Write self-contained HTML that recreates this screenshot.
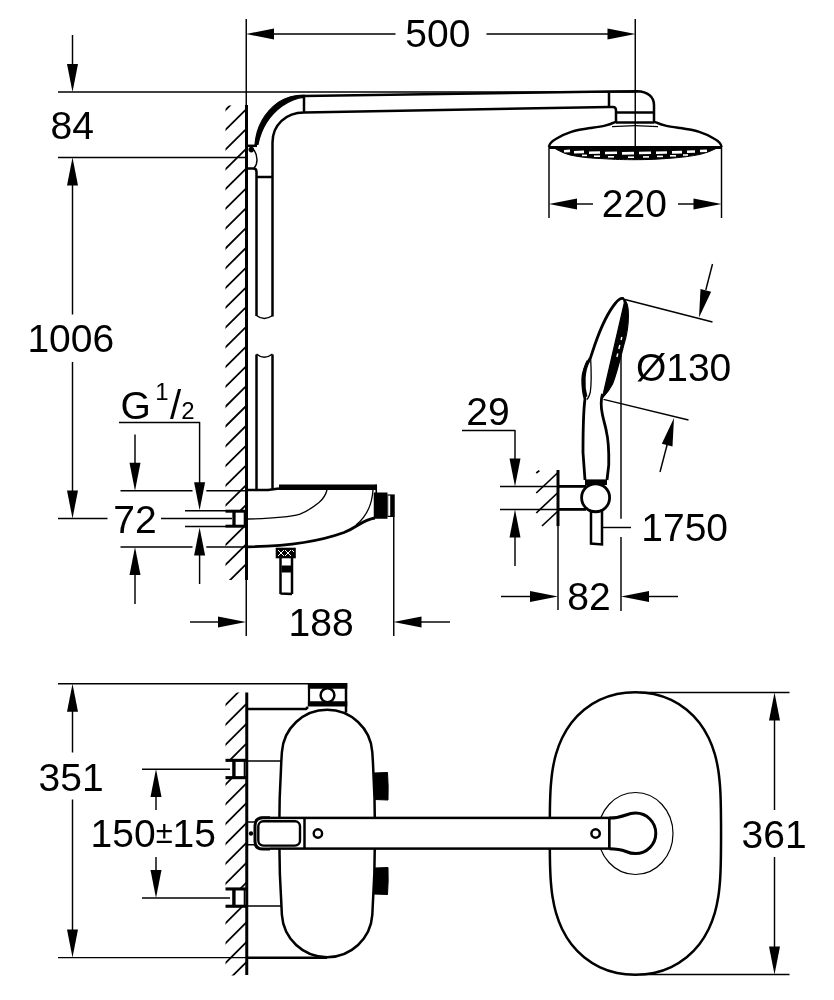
<!DOCTYPE html>
<html lang="en">
<head>
<meta charset="utf-8">
<title>Dimensional drawing</title>
<style>
html,body{margin:0;padding:0;background:#fff;}
body{width:834px;height:1000px;overflow:hidden;font-family:"Liberation Sans",Arial,Helvetica,sans-serif;}
svg{display:block;filter:grayscale(1);}
svg text{font-family:"Liberation Sans",Arial,Helvetica,sans-serif;fill:#000;stroke:none;}
</style>
</head>
<body>
<svg width="834" height="1000" viewBox="0 0 834 1000" stroke="#000" fill="none">
<rect x="0" y="0" width="834" height="1000" fill="#fff" stroke="none"/>
<g id="side-view">
<clipPath id="h1"><rect x="225.5" y="105.5" width="21.5" height="474.5"/></clipPath>
<g clip-path="url(#h1)" stroke-width="1.8">
<line x1="220" y1="115.36" x2="250" y2="85.66"/>
<line x1="220" y1="135.13" x2="250" y2="105.44"/>
<line x1="220" y1="154.92" x2="250" y2="125.22"/>
<line x1="220" y1="174.69" x2="250" y2="145.00"/>
<line x1="220" y1="194.48" x2="250" y2="164.78"/>
<line x1="220" y1="214.25" x2="250" y2="184.56"/>
<line x1="220" y1="234.04" x2="250" y2="204.34"/>
<line x1="220" y1="253.81" x2="250" y2="224.12"/>
<line x1="220" y1="273.60" x2="250" y2="243.90"/>
<line x1="220" y1="293.38" x2="250" y2="263.68"/>
<line x1="220" y1="313.16" x2="250" y2="283.46"/>
<line x1="220" y1="332.94" x2="250" y2="303.24"/>
<line x1="220" y1="352.72" x2="250" y2="323.02"/>
<line x1="220" y1="372.50" x2="250" y2="342.80"/>
<line x1="220" y1="392.27" x2="250" y2="362.57"/>
<line x1="220" y1="412.06" x2="250" y2="382.36"/>
<line x1="220" y1="431.84" x2="250" y2="402.14"/>
<line x1="220" y1="451.62" x2="250" y2="421.92"/>
<line x1="220" y1="471.39" x2="250" y2="441.69"/>
<line x1="220" y1="491.18" x2="250" y2="461.48"/>
<line x1="220" y1="510.96" x2="250" y2="481.26"/>
<line x1="220" y1="530.74" x2="250" y2="501.04"/>
<line x1="220" y1="550.51" x2="250" y2="520.81"/>
<line x1="220" y1="570.30" x2="250" y2="540.60"/>
<line x1="220" y1="590.08" x2="250" y2="560.38"/>
<line x1="220" y1="609.86" x2="250" y2="580.15"/>
<line x1="220" y1="629.63" x2="250" y2="599.93"/>
</g>
<rect x="225" y="511" width="21" height="15.5" fill="#fff" stroke="none"/>
<line x1="185" y1="510.75" x2="226" y2="510.75" stroke-width="1.45" stroke-linecap="butt"/>
<line x1="185" y1="526.5" x2="226" y2="526.5" stroke-width="1.45" stroke-linecap="butt"/>
<line x1="225.5" y1="511.2" x2="246" y2="511.2" stroke-width="3" stroke-linecap="butt"/>
<line x1="225.5" y1="526.2" x2="246" y2="526.2" stroke-width="3" stroke-linecap="butt"/>
<line x1="234" y1="511" x2="234" y2="526.5" stroke-width="3.3" stroke-linecap="butt"/>
<line x1="244.4" y1="511" x2="244.4" y2="526.5" stroke-width="1.4" stroke-linecap="butt"/>
<line x1="246.25" y1="19" x2="246.25" y2="106" stroke-width="1.45" stroke-linecap="butt"/>
<line x1="246.5" y1="105" x2="246.5" y2="580" stroke-width="3.0" stroke-linecap="butt"/>
<line x1="246.25" y1="580" x2="246.25" y2="636" stroke-width="1.45" stroke-linecap="butt"/>
<line x1="58" y1="92" x2="635" y2="92" stroke-width="1.45" stroke-linecap="butt"/>
<line x1="58" y1="157.5" x2="247" y2="157.5" stroke-width="1.45" stroke-linecap="butt"/>
<line x1="72.5" y1="35" x2="72.5" y2="66" stroke-width="1.45" stroke-linecap="butt"/>
<polygon points="72.50,92.00 67.00,64.00 78.00,64.00" fill="#000" stroke="none"/>
<polygon points="72.50,157.50 78.00,185.50 67.00,185.50" fill="#000" stroke="none"/>
<line x1="72.5" y1="184" x2="72.5" y2="314.5" stroke-width="1.45" stroke-linecap="butt"/>
<line x1="72.5" y1="362" x2="72.5" y2="492" stroke-width="1.45" stroke-linecap="butt"/>
<polygon points="72.50,518.50 67.00,490.50 78.00,490.50" fill="#000" stroke="none"/>
<line x1="58" y1="518.5" x2="107.5" y2="518.5" stroke-width="1.45" stroke-linecap="butt"/>
<line x1="161" y1="518.5" x2="232" y2="518.5" stroke-width="1.45" stroke-linecap="butt"/>
<line x1="635.25" y1="19" x2="635.25" y2="146" stroke-width="1.45" stroke-linecap="butt"/>
<polygon points="246.00,34.00 274.00,28.50 274.00,39.50" fill="#000" stroke="none"/>
<line x1="273" y1="34" x2="395.5" y2="34" stroke-width="1.45" stroke-linecap="butt"/>
<line x1="486.5" y1="34" x2="609" y2="34" stroke-width="1.45" stroke-linecap="butt"/>
<polygon points="635.50,34.00 607.50,39.50 607.50,28.50" fill="#000" stroke="none"/>
<line x1="549" y1="147" x2="549" y2="218" stroke-width="1.45" stroke-linecap="butt"/>
<line x1="721.5" y1="147" x2="721.5" y2="218" stroke-width="1.45" stroke-linecap="butt"/>
<polygon points="549.00,204.00 577.00,198.50 577.00,209.50" fill="#000" stroke="none"/>
<line x1="576" y1="204" x2="593" y2="204" stroke-width="1.45" stroke-linecap="butt"/>
<line x1="678" y1="204" x2="694" y2="204" stroke-width="1.45" stroke-linecap="butt"/>
<polygon points="721.50,204.00 693.50,209.50 693.50,198.50" fill="#000" stroke="none"/>
<line x1="120.5" y1="490.75" x2="246" y2="490.75" stroke-width="1.45" stroke-linecap="butt"/>
<line x1="120.5" y1="547" x2="246" y2="547" stroke-width="1.45" stroke-linecap="butt"/>
<line x1="135" y1="434.5" x2="135" y2="464" stroke-width="1.45" stroke-linecap="butt"/>
<polygon points="135.00,490.75 129.50,462.75 140.50,462.75" fill="#000" stroke="none"/>
<polygon points="135.00,547.00 140.50,575.00 129.50,575.00" fill="#000" stroke="none"/>
<line x1="135" y1="573" x2="135" y2="604" stroke-width="1.45" stroke-linecap="butt"/>
<line x1="119" y1="422.5" x2="200" y2="422.5" stroke-width="1.45" stroke-linecap="butt"/>
<line x1="199.6" y1="422" x2="199.6" y2="484" stroke-width="1.45" stroke-linecap="butt"/>
<rect x="192.5" y="489" width="13.8" height="3.6" fill="#fff" stroke="none"/>
<rect x="192.5" y="545.2" width="13.8" height="3.6" fill="#fff" stroke="none"/>
<polygon points="199.60,510.30 194.10,482.30 205.10,482.30" fill="#000" stroke="none"/>
<polygon points="199.60,527.50 205.10,555.50 194.10,555.50" fill="#000" stroke="none"/>
<line x1="199.6" y1="554" x2="199.6" y2="584" stroke-width="1.45" stroke-linecap="butt"/>
<line x1="393.75" y1="517" x2="393.75" y2="636" stroke-width="1.45" stroke-linecap="butt"/>
<line x1="190" y1="622" x2="220" y2="622" stroke-width="1.45" stroke-linecap="butt"/>
<polygon points="246.00,622.00 218.00,627.50 218.00,616.50" fill="#000" stroke="none"/>
<polygon points="393.50,622.00 421.50,616.50 421.50,627.50" fill="#000" stroke="none"/>
<line x1="420" y1="622" x2="450" y2="622" stroke-width="1.45" stroke-linecap="butt"/>
<path d="M255,144.5 C256.5,127 264.5,112.5 278.5,102.3 C287,96.8 295,95 304,95 L304,97.3 C297,97.8 290,100.5 282,106 C269,115.5 261,129 258,144.5 Z" stroke-width="1.2" fill="#000" />
<path d="M304,96 L609,91.5" stroke-width="2.5" fill="none" />
<path d="M272.5,316.5 L272.5,142.5 C272.5,125 286,112.5 304,112.5 L609,107" stroke-width="2.5" fill="none" />
<line x1="304" y1="96" x2="304" y2="112.5" stroke-width="2.5" stroke-linecap="butt"/>
<circle cx="251.3" cy="149.6" r="2.8" fill="#000" stroke="none"/>
<path d="M247,145.8 L257,145.8" stroke-width="2.5" fill="none" />
<path d="M254,150 C258,156 258,164 254,168" stroke-width="1.45" fill="none" />
<path d="M247,168.5 L253.5,168.5 Q256.5,168.5 256.5,172 L256.5,316" stroke-width="2.5" fill="none" />
<line x1="256.5" y1="177" x2="272.5" y2="177" stroke-width="2.5" stroke-linecap="butt"/>
<path d="M256.5,315.5 Q264,321.5 272.5,315.5" stroke-width="1.45" fill="none" />
<path d="M256.5,354.5 L256.5,489" stroke-width="2.5" fill="none" />
<path d="M272.5,354.5 L272.5,489" stroke-width="2.5" fill="none" />
<path d="M256.5,354 Q264,360.5 272.5,354" stroke-width="1.45" fill="none" />
<path d="M609,91.5 L609,107" stroke-width="2.5" fill="none" />
<path d="M609,91.5 L637,91.25 C648,91.5 654,97 654,105 L654,122.5" stroke-width="2.5" fill="none" />
<path d="M609,107 L613,107 Q616,107 616,110.5 L616,123" stroke-width="2.5" fill="none" />
<line x1="616" y1="112.5" x2="654" y2="112.5" stroke-width="2.5" stroke-linecap="butt"/>
<line x1="616" y1="122.5" x2="654" y2="122.5" stroke-width="2.5" stroke-linecap="butt"/>
<path d="M548.9,147 C549.5,142.5 553,140.5 556.25,138.75 C561,136 566,133.5 571.25,131.9 C577,130.2 584,129 590,128.1 C596,127.2 601,126.5 605,125.6 C609,124.7 612,123.5 613.75,122.6 L616,122" stroke-width="2.5" fill="none" />
<path d="M721.6,147 C721,142.5 717.5,140.5 714.25,138.75 C709.5,136 704.5,133.5 699.25,131.9 C693.5,130.2 686.5,129 680.5,128.1 C674.5,127.2 669.5,126.5 665.5,125.6 C661.5,124.7 658.5,123.5 656.75,122.6 L654,122" stroke-width="2.5" fill="none" />
<line x1="612" y1="126.6" x2="635" y2="125.6" stroke-width="1.2" stroke-linecap="butt"/>
<line x1="635" y1="125.6" x2="658" y2="126.6" stroke-width="1.2" stroke-linecap="butt"/>
<path d="M549,147.5 L721.5,147.5" stroke-width="3" fill="none" />
<path d="M555,148.5 C562,152.5 566,154 571,155.2 C582,157.5 592,158.2 602,158.6 C615,159.5 625,159.7 635,159.7 C648,159.7 660,159 668,158.4 C682,157.5 692,156 699,154.6 C706,153 711,151 716,148.5 Z" stroke-width="1" fill="#000" />
<g stroke="#fff" stroke-width="2.6">
<line x1="564" y1="151.2" x2="570" y2="150.89999999999998"/>
<line x1="574" y1="152.2" x2="584" y2="151.89999999999998"/>
<line x1="589" y1="152.8" x2="600" y2="152.5"/>
<line x1="605" y1="153" x2="617" y2="152.7"/>
<line x1="622" y1="153.4" x2="634" y2="153.1"/>
<line x1="639" y1="153" x2="651" y2="152.7"/>
<line x1="656" y1="152.8" x2="667" y2="152.5"/>
<line x1="672" y1="152.4" x2="682" y2="152.1"/>
<line x1="687" y1="151.8" x2="695" y2="151.5"/>
<line x1="700" y1="151" x2="707" y2="150.7"/>
</g>
<g stroke="#fff" stroke-width="1.6">
<line x1="582" y1="155.4" x2="587" y2="155.4"/>
<line x1="594" y1="156.2" x2="600" y2="156.2"/>
<line x1="608" y1="156.8" x2="614" y2="156.8"/>
<line x1="628" y1="157.2" x2="634" y2="157.2"/>
<line x1="643" y1="156.9" x2="649" y2="156.9"/>
<line x1="657" y1="156.4" x2="663" y2="156.4"/>
<line x1="670" y1="155.8" x2="676" y2="155.8"/>
<line x1="683" y1="155" x2="688" y2="155"/>
</g>
<path d="M279,487.2 L376.25,487.2" stroke-width="5.6" fill="none" />
<path d="M246.5,490 L268,490 L279,488.5" stroke-width="2.5" fill="none" />
<path d="M376.25,484.4 L376.25,493" stroke-width="1.6" fill="none" />
<path d="M373,490 C372,505 366,517 356,525" stroke-width="1.3" fill="none" />
<path d="M246.5,546.8 C280,546.5 315,543 344,532.5 C358,527 362,520 375,518" stroke-width="2.8" fill="none" />
<path d="M327,490 C325.5,496 322.5,499.5 319,502.5 C314,506.5 308,511 300,514.2 C288,517.5 270,518.6 248,519" stroke-width="1.3" fill="none" />
<rect x="373.75" y="492.5" width="13.75" height="26.25" fill="#000" stroke="none"/>
<rect x="387.5" y="494.4" width="7.25" height="22.6" fill="#000" stroke="none"/>
<rect x="388.2" y="495.6" width="2" height="20.2" fill="#fff" stroke="none"/>
<rect x="276.5" y="548.5" width="18.5" height="9" stroke-width="1.6" fill="#000"/>
<g stroke="#fff" stroke-width="1"><path d="M278,550 L284,556 M284,550 L278,556 M285,550 L291,556 M291,550 L285,556 M292,550 L294,552"/></g>
<path d="M280.5,557.5 L280.5,594 M292,557.5 L292,594 M280.5,593.5 L292,594" stroke-width="2.5" fill="none" />
<path d="M282,566 L291,566 L291,572 L282,572 Z" stroke-width="1" fill="#000" />
</g>
<g id="hand-shower">
<g stroke-width="1.7">
<line x1="536.25" y1="493" x2="558" y2="472.5" stroke-width="1.7" stroke-linecap="butt"/>
<line x1="536.25" y1="513" x2="558" y2="492.5" stroke-width="1.7" stroke-linecap="butt"/>
<line x1="542" y1="526" x2="558" y2="511" stroke-width="1.7" stroke-linecap="butt"/>
<line x1="536.25" y1="473" x2="539.4" y2="470.6" stroke-width="1.7" stroke-linecap="butt"/>
</g>
<line x1="558" y1="470" x2="558" y2="526" stroke-width="3.0" stroke-linecap="butt"/>
<line x1="558" y1="526" x2="558" y2="610" stroke-width="1.45" stroke-linecap="butt"/>
<line x1="500" y1="486.5" x2="558" y2="486.5" stroke-width="1.45" stroke-linecap="butt"/>
<line x1="500" y1="509.5" x2="558" y2="509.5" stroke-width="1.45" stroke-linecap="butt"/>
<line x1="558" y1="486.4" x2="586" y2="486.4" stroke-width="2.8" stroke-linecap="butt"/>
<line x1="558" y1="509.4" x2="586" y2="509.4" stroke-width="2.8" stroke-linecap="butt"/>
<circle cx="595.6" cy="497.75" r="14" stroke-width="2.8" fill="#fff"/>
<path d="M585,482.2 L607,482.2" stroke-width="5.6" fill="none" />
<line x1="462" y1="430.5" x2="515" y2="430.5" stroke-width="1.45" stroke-linecap="butt"/>
<line x1="515" y1="430" x2="515" y2="460" stroke-width="1.45" stroke-linecap="butt"/>
<polygon points="515.00,486.50 509.50,458.50 520.50,458.50" fill="#000" stroke="none"/>
<polygon points="515.00,509.50 520.50,537.50 509.50,537.50" fill="#000" stroke="none"/>
<line x1="515" y1="536" x2="515" y2="566" stroke-width="1.45" stroke-linecap="butt"/>
<line x1="621" y1="355" x2="621" y2="518.75" stroke-width="1.45" stroke-linecap="butt"/>
<line x1="621" y1="537" x2="621" y2="611" stroke-width="1.45" stroke-linecap="butt"/>
<line x1="501" y1="596.5" x2="532" y2="596.5" stroke-width="1.45" stroke-linecap="butt"/>
<polygon points="558.00,596.50 530.00,602.00 530.00,591.00" fill="#000" stroke="none"/>
<polygon points="621.00,596.50 649.00,591.00 649.00,602.00" fill="#000" stroke="none"/>
<line x1="647" y1="596.5" x2="678" y2="596.5" stroke-width="1.45" stroke-linecap="butt"/>
<line x1="603" y1="527.5" x2="631" y2="527.5" stroke-width="1.45" stroke-linecap="butt"/>
<path d="M591,511 L591,543.5 L602,544.5 L602,511" stroke-width="2.5" fill="none" />
<path d="M623.5,298.6 C620.5,297.5 618,300 616,302.5 C608,312 601,327 594.75,345 L590.6,357.5 C586.5,364 582.7,372 582.7,379 C582.7,387 583.7,394 585,398.75 C583.5,410 583,420 583,452.5 L585,480" stroke-width="2.8" fill="none" />
<path d="M602.5,394 C601,399 601,408 602.5,415 C604,422 606,428 606.25,431 C608,438 609,452 608.75,465 L607,480" stroke-width="2.8" fill="none" />
<path d="M623.5,298.6 C627,301 628.4,308 628.4,315 C628.4,322 627,335 623.75,345 C620,360 616,375 612.5,384 C609,391 606,394 601.8,398.5 L603.6,392.5 L624.3,303 Z" stroke-width="1.2" fill="#000" />
<path d="M590.6,357.5 C591.3,370 591.3,385 590.3,392 Q588.8,398 586.8,399.5" stroke-width="1.3" fill="none" />
<path d="M588.3,361 C583.3,370 582.3,385 585.7,397" stroke-width="3.6" fill="none" />
<g stroke="#fff" stroke-width="1.3">
<line x1="621.8" y1="337" x2="621.1" y2="340" stroke-width="1.45" stroke-linecap="butt"/>
<line x1="619.8" y1="345" x2="618.8" y2="349" stroke-width="1.45" stroke-linecap="butt"/>
<line x1="617.8" y1="353.5" x2="616.9" y2="357" stroke-width="1.45" stroke-linecap="butt"/>
</g>
<line x1="623" y1="299" x2="712.5" y2="322" stroke-width="1.45" stroke-linecap="butt"/>
<line x1="603.5" y1="399.4" x2="688.5" y2="420" stroke-width="1.45" stroke-linecap="butt"/>
<line x1="712.5" y1="264" x2="705.8" y2="290" stroke-width="1.45" stroke-linecap="butt"/>
<polygon points="699.00,317.50 700.52,289.01 711.18,291.70" fill="#000" stroke="none"/>
<polygon points="674.00,418.00 672.48,446.49 661.82,443.80" fill="#000" stroke="none"/>
<line x1="667.3" y1="444" x2="660" y2="472" stroke-width="1.45" stroke-linecap="butt"/>
</g>
<g id="bottom-view">
<clipPath id="h2"><rect x="225.5" y="692.5" width="21.5" height="283"/></clipPath>
<g clip-path="url(#h2)" stroke-width="1.8">
<line x1="220" y1="690.65" x2="250" y2="660.65"/>
<line x1="220" y1="710.50" x2="250" y2="680.50"/>
<line x1="220" y1="730.35" x2="250" y2="700.35"/>
<line x1="220" y1="750.20" x2="250" y2="720.20"/>
<line x1="220" y1="770.05" x2="250" y2="740.05"/>
<line x1="220" y1="789.90" x2="250" y2="759.90"/>
<line x1="220" y1="809.75" x2="250" y2="779.75"/>
<line x1="220" y1="829.60" x2="250" y2="799.60"/>
<line x1="220" y1="849.45" x2="250" y2="819.45"/>
<line x1="220" y1="869.30" x2="250" y2="839.30"/>
<line x1="220" y1="889.15" x2="250" y2="859.15"/>
<line x1="220" y1="909.00" x2="250" y2="879.00"/>
<line x1="220" y1="928.85" x2="250" y2="898.85"/>
<line x1="220" y1="948.70" x2="250" y2="918.70"/>
<line x1="220" y1="968.55" x2="250" y2="938.55"/>
<line x1="220" y1="988.40" x2="250" y2="958.40"/>
<line x1="220" y1="1008.25" x2="250" y2="978.25"/>
</g>
<line x1="58" y1="683.8" x2="308" y2="683.8" stroke-width="1.45" stroke-linecap="butt"/>
<line x1="58" y1="957.6" x2="247" y2="957.6" stroke-width="1.45" stroke-linecap="butt"/>
<line x1="246.5" y1="957.7" x2="327" y2="957.7" stroke-width="2.5" stroke-linecap="butt"/>
<polygon points="72.50,683.75 78.00,711.75 67.00,711.75" fill="#000" stroke="none"/>
<line x1="72.5" y1="710" x2="72.5" y2="752.5" stroke-width="1.45" stroke-linecap="butt"/>
<line x1="72.5" y1="799.5" x2="72.5" y2="932" stroke-width="1.45" stroke-linecap="butt"/>
<polygon points="72.50,957.50 67.00,929.50 78.00,929.50" fill="#000" stroke="none"/>
<polygon points="156.00,769.00 161.50,797.00 150.50,797.00" fill="#000" stroke="none"/>
<line x1="156" y1="795" x2="156" y2="810" stroke-width="1.45" stroke-linecap="butt"/>
<line x1="156" y1="857" x2="156" y2="872" stroke-width="1.45" stroke-linecap="butt"/>
<polygon points="156.00,898.00 150.50,870.00 161.50,870.00" fill="#000" stroke="none"/>
<rect x="225" y="760.5" width="22" height="17" fill="#fff" stroke="none"/>
<line x1="225.5" y1="760.35" x2="246" y2="760.35" stroke-width="3.1" stroke-linecap="butt"/>
<line x1="225.5" y1="777.65" x2="246" y2="777.65" stroke-width="3.1" stroke-linecap="butt"/>
<line x1="233.9" y1="761" x2="233.9" y2="777" stroke-width="3.4" stroke-linecap="butt"/>
<line x1="244.4" y1="761" x2="244.4" y2="777" stroke-width="1.4" stroke-linecap="butt"/>
<rect x="225" y="889.1" width="22" height="17" fill="#fff" stroke="none"/>
<line x1="225.5" y1="888.95" x2="246" y2="888.95" stroke-width="3.1" stroke-linecap="butt"/>
<line x1="225.5" y1="906.25" x2="246" y2="906.25" stroke-width="3.1" stroke-linecap="butt"/>
<line x1="233.9" y1="889.6" x2="233.9" y2="905.6" stroke-width="3.4" stroke-linecap="butt"/>
<line x1="244.4" y1="889.6" x2="244.4" y2="905.6" stroke-width="1.4" stroke-linecap="butt"/>
<line x1="246" y1="761" x2="281" y2="761" stroke-width="1.45" stroke-linecap="butt"/>
<line x1="246" y1="906" x2="281" y2="906" stroke-width="1.45" stroke-linecap="butt"/>
<line x1="142" y1="769.2" x2="230" y2="769.2" stroke-width="1.45" stroke-linecap="butt"/>
<line x1="142" y1="898" x2="230" y2="898" stroke-width="1.45" stroke-linecap="butt"/>
<line x1="246.75" y1="692.5" x2="246.75" y2="975" stroke-width="3.0" stroke-linecap="butt"/>
<path d="M246.5,709 L306,709 L308,707" stroke-width="2.5" fill="none" />
<path d="M327.10,709.75 A45.30,45.30 0 0 1 372.30,752.05 A1230.14,1230.14 0 0 1 372.30,914.95 A45.30,45.30 0 0 1 281.90,914.95 A1230.14,1230.14 0 0 1 281.90,752.05 A45.30,45.30 0 0 1 327.10,709.75Z" stroke-width="2.5" fill="none" />
<rect x="307.9" y="683" width="39.35" height="5.75" fill="#000" stroke="none"/>
<rect x="307.9" y="701.25" width="39.35" height="5.25" fill="#000" stroke="none"/>
<line x1="309" y1="683" x2="309" y2="706" stroke-width="2.2" stroke-linecap="butt"/>
<line x1="346" y1="683" x2="346" y2="712.5" stroke-width="2.5" stroke-linecap="butt"/>
<circle cx="327.5" cy="695.25" r="6.9" stroke-width="2.5" fill="#fff"/>
<path d="M373.75,773 L387.5,772.5 Q388.5,786 388,800 L375,799.5 Z" stroke-width="1" fill="#000" />
<path d="M375,868 L388,867.5 Q388.5,881 387.5,894.5 L374,894 Z" stroke-width="1" fill="#000" />
<path d="M721.05,833.50 C721.05,829.74 721.03,826.05 721.01,822.23 C720.99,818.41 720.96,814.60 720.90,810.59 C720.84,806.59 720.78,802.51 720.62,798.20 C720.46,793.89 720.31,789.42 719.91,784.71 C719.51,780.00 719.09,775.03 718.24,769.93 C717.39,764.83 716.39,759.43 714.80,754.10 C713.21,748.77 711.28,743.19 708.71,737.96 C706.14,732.73 703.04,727.42 699.37,722.70 C695.70,717.99 691.38,713.47 686.69,709.67 C681.99,705.87 676.68,702.51 671.20,699.89 C665.71,697.27 659.75,695.21 653.78,693.93 C647.81,692.65 641.53,692.20 635.40,692.20 C629.27,692.20 622.99,692.65 617.02,693.93 C611.05,695.21 605.09,697.27 599.60,699.89 C594.12,702.51 588.81,705.87 584.11,709.67 C579.41,713.47 575.10,717.99 571.43,722.70 C567.76,727.42 564.66,732.73 562.09,737.96 C559.52,743.19 557.59,748.77 556.00,754.10 C554.41,759.43 553.41,764.83 552.56,769.93 C551.71,775.03 551.29,780.00 550.89,784.71 C550.49,789.42 550.34,793.89 550.18,798.20 C550.01,802.51 549.96,806.59 549.90,810.59 C549.84,814.60 549.81,818.41 549.79,822.23 C549.76,826.05 549.75,829.74 549.75,833.50 C549.75,837.26 549.76,840.95 549.79,844.77 C549.81,848.59 549.84,852.40 549.90,856.41 C549.96,860.41 550.01,864.49 550.18,868.80 C550.34,873.11 550.49,877.58 550.89,882.29 C551.29,887.00 551.71,891.97 552.56,897.07 C553.41,902.17 554.41,907.57 556.00,912.90 C557.59,918.23 559.52,923.81 562.09,929.04 C564.66,934.27 567.76,939.58 571.43,944.30 C575.10,949.01 579.41,953.53 584.11,957.33 C588.81,961.13 594.12,964.49 599.60,967.11 C605.09,969.73 611.05,971.79 617.02,973.07 C622.99,974.35 629.27,974.80 635.40,974.80 C641.53,974.80 647.81,974.35 653.78,973.07 C659.75,971.79 665.71,969.73 671.20,967.11 C676.68,964.49 681.99,961.13 686.69,957.33 C691.38,953.53 695.70,949.01 699.37,944.30 C703.04,939.58 706.14,934.27 708.71,929.04 C711.28,923.81 713.21,918.23 714.80,912.90 C716.39,907.57 717.39,902.17 718.24,897.07 C719.09,891.97 719.51,887.00 719.91,882.29 C720.31,877.58 720.46,873.11 720.62,868.80 C720.78,864.49 720.84,860.41 720.90,856.41 C720.96,852.40 720.99,848.59 721.01,844.77 C721.03,840.95 721.05,837.26 721.05,833.50Z" stroke-width="2.5" fill="none" />
<ellipse cx="635.5" cy="833.5" rx="37.5" ry="41" stroke-width="1.2"/>
<rect x="262" y="817.9" width="347.4" height="30.7" stroke-width="2.5" fill="#fff"/>
<path d="M270,817.7 L263,817.7 Q255,817.7 255,825.5 L255,841.5 Q255,849 263,849 L270,849" stroke-width="3" fill="#fff" />
<rect x="258.3" y="821.3" width="41.7" height="24.3" rx="5" stroke-width="2.4" fill="#fff"/>
<line x1="304.5" y1="818" x2="304.5" y2="848.6" stroke-width="2.5" stroke-linecap="butt"/>
<line x1="246.5" y1="822" x2="255" y2="822" stroke-width="1.5" stroke-linecap="butt"/>
<line x1="246.5" y1="844.75" x2="255" y2="844.75" stroke-width="1.5" stroke-linecap="butt"/>
<circle cx="251" cy="833.5" r="2.2" fill="#000" stroke="none"/>
<circle cx="317.9" cy="833.5" r="4.2" stroke-width="2.4"/>
<circle cx="595.6" cy="833.5" r="4.2" stroke-width="2.5"/>
<path d="M609.4,818 C617,818 621,817 626,815 C629,813.8 632,813 635.5,813 A20.3,20.3 0 0 1 635.5,853.6 C632,853.6 629,852.8 626,851.5 C621,849.5 617,848.75 609.4,848.75" stroke-width="3" fill="#fff" />
<line x1="609.4" y1="818" x2="609.4" y2="848.6" stroke-width="2.5" stroke-linecap="butt"/>
<line x1="640" y1="692.5" x2="789.5" y2="692.5" stroke-width="1.45" stroke-linecap="butt"/>
<line x1="640" y1="974.5" x2="789.5" y2="974.5" stroke-width="1.45" stroke-linecap="butt"/>
<polygon points="774.50,692.50 780.00,720.50 769.00,720.50" fill="#000" stroke="none"/>
<line x1="774.5" y1="719" x2="774.5" y2="810" stroke-width="1.45" stroke-linecap="butt"/>
<line x1="774.5" y1="857" x2="774.5" y2="948" stroke-width="1.45" stroke-linecap="butt"/>
<polygon points="774.50,974.50 769.00,946.50 780.00,946.50" fill="#000" stroke="none"/>
</g>
<g id="labels">
<text x="405.34" y="47" font-size="39" text-anchor="start" >500</text>
<text x="50.56" y="139" font-size="39" text-anchor="start" >84</text>
<text x="27.38" y="352.3" font-size="39" text-anchor="start" >1006</text>
<text x="113.25" y="532.5" font-size="39" text-anchor="start" >72</text>
<text x="288.62" y="636" font-size="39" text-anchor="start" >188</text>
<text x="601.75" y="217" font-size="39" text-anchor="start" >220</text>
<text x="635.88" y="381" font-size="39" text-anchor="start" >Ø130</text>
<text x="466.19" y="425" font-size="39" text-anchor="start" >29</text>
<text x="641.25" y="541" font-size="39" text-anchor="start" >1750</text>
<text x="567.34" y="610.2" font-size="39" text-anchor="start" >82</text>
<text x="38.5" y="790.5" font-size="39" text-anchor="start" >351</text>
<text x="741.5" y="847.5" font-size="39" text-anchor="start" >361</text>
<text y="847.3" font-size="39"><tspan x="90.5">150</tspan><tspan x="155.8" y="842.5" font-size="31">±</tspan><tspan x="172.52" y="847.3">15</tspan></text>
<text y="419.2" font-size="39"><tspan x="120.61">G</tspan><tspan x="155.14" y="399.75" font-size="24">1</tspan><tspan x="170.04" y="419.2" font-size="40">/</tspan><tspan x="181.31" y="418.75" font-size="24">2</tspan></text>
</g>
</svg>
</body>
</html>
